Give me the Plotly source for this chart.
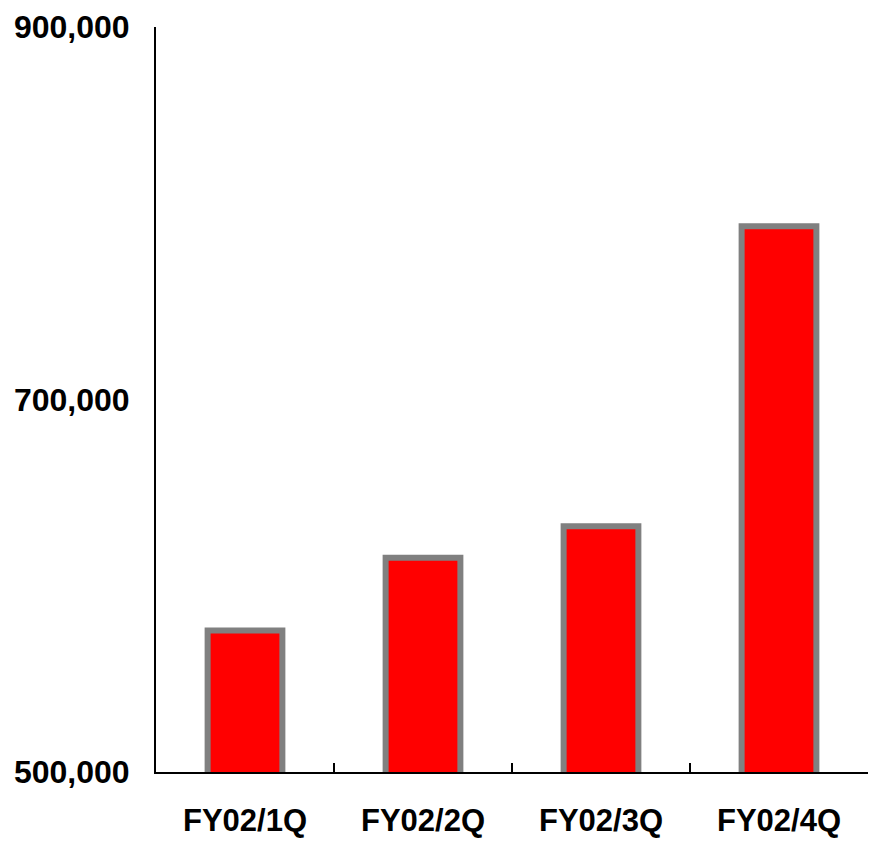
import plotly.graph_objects as go

categories = ["FY02/1Q", "FY02/2Q", "FY02/3Q", "FY02/4Q"]
values = [576000, 615000, 632000, 793000]
y_ticks = [500000, 700000, 900000]
y_tick_labels = ["500,000", "700,000", "900,000"]

fig = go.Figure()
fig.add_trace(go.Bar(
    x=categories, y=values,
    width=0.42,
    marker=dict(color="#FF0000", line=dict(color="#808080", width=6)),
))

yfont = dict(family="Arial, Liberation Sans, sans-serif", size=32, color="black", weight="bold")
xfont = dict(family="Arial, Liberation Sans, sans-serif", size=31, color="black", weight="bold")

fig.update_layout(
    width=869, height=841,
    margin=dict(l=156, r=1, t=27, b=69, autoexpand=False),
    paper_bgcolor="white", plot_bgcolor="white",
    showlegend=False,
    xaxis=dict(
        showline=True, linecolor="black", linewidth=2,
        ticks="inside", tickson="boundaries", ticklen=9, tickwidth=1.5, tickcolor="black",
        tickfont=xfont, ticklabelstandoff=20, showgrid=False, automargin=False,
    ),
    yaxis=dict(
        range=[500000, 900000],
        tickvals=y_ticks, ticktext=y_tick_labels,
        showline=True, linecolor="black", linewidth=2,
        ticks="", tickfont=yfont, ticklabelstandoff=18,
        showgrid=False, zeroline=False, automargin=False,
    ),
)

fig.write_html("out.html")
